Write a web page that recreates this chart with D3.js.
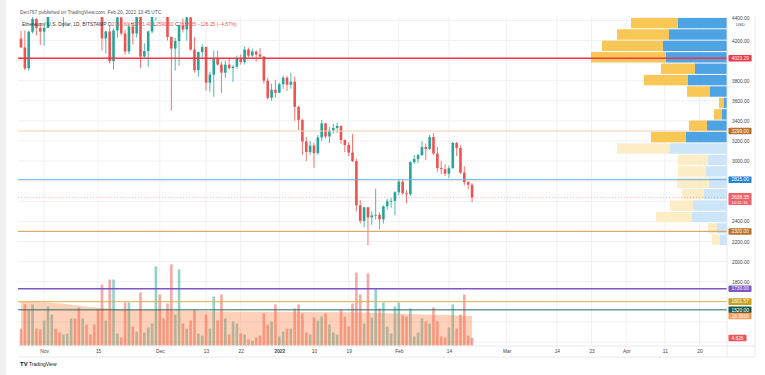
<!DOCTYPE html>
<html>
<head>
<meta charset="utf-8">
<script src="https://cdn.jsdelivr.net/npm/d3@7"></script>
<style>
  body { margin: 0; background: #fff; }
  svg { display: block; font-family: "Liberation Sans", Arial, sans-serif; }
</style>
</head>
<body>
<div id="chart"></div>
<script>
// ETH/USD daily, BITSTAMP, Oct 26 2021 -> Feb 20 2022
const opens = [
  4218,4131,3923,4287,4415,4325,4288,4325,4588,4603,
  4530,4480,4520,4620,4810,4733,4640,4725,4665,4648,
  4625,4570,4220,4290,3995,4300,4430,4270,4090,4340,
  4270,4525,4040,4095,4290,4440,4630,4585,4510,4235,
  4120,4195,4350,4310,4430,4110,3905,4085,4135,3780,
  3860,4020,3960,3880,3960,3925,3940,4020,3985,4110,
  4050,4090,4060,4040,3800,3630,3710,3680,3765,3830,
  3760,3790,3540,3410,3195,3090,3155,3080,3235,3375,
  3245,3305,3330,3350,3210,3160,3085,3000,2560,2405,
  2540,2440,2460,2465,2420,2550,2600,2605,2690,2795,
  2680,2670,2990,3020,3060,3140,3120,3240,3075,2930,
  2920,2875,2930,3180,3130,2885,2790,2764.6
]
const highs = [
  4295,4300,4300,4460,4420,4375,4380,4600,4665,4610,
  4570,4530,4640,4830,4840,4870,4780,4800,4700,4680,
  4770,4570,4300,4345,4320,4440,4460,4310,4370,4360,
  4550,4550,4170,4300,4460,4770,4775,4600,4645,4240,
  4230,4355,4420,4440,4470,4235,4090,4160,4140,3890,
  4100,4100,3990,4000,4020,3955,4050,4060,4140,4130,
  4120,4100,4125,4045,3830,3770,3810,3780,3850,3850,
  3880,3840,3550,3420,3240,3200,3180,3260,3410,3380,
  3340,3370,3380,3355,3215,3190,3270,3025,2610,2545,
  2545,2500,2725,2490,2560,2625,2635,2700,2820,2810,
  2710,3000,3060,3070,3200,3175,3260,3280,3140,3000,
  2970,2955,3190,3190,3160,2950,2800,2781.4
]
const lows = [
  4125,3905,3900,4270,4250,4155,4150,4325,4460,4450,
  4440,4330,4500,4610,4700,4500,4630,4500,4570,4520,
  4555,4100,4070,3970,3910,4230,4250,4060,4065,4160,
  4230,3925,4030,3940,4270,4400,4520,4430,4200,3500,
  3900,3950,4280,4200,4100,3880,3840,4030,3700,3690,
  3640,3950,3680,3830,3910,3790,3920,3960,3960,4030,
  4030,3990,4030,3770,3610,3600,3630,3675,3720,3700,
  3720,3400,3310,3060,3000,3060,2930,3060,3200,3225,
  3180,3275,3280,3170,3090,3050,2990,2500,2380,2340,
  2160,2365,2420,2320,2380,2520,2535,2460,2660,2665,
  2580,2650,2970,2980,3050,3010,3110,3060,2890,2870,
  2850,2830,2925,3050,2870,2760,2720,2590.1
]
const closes = [
  4131,3923,4287,4415,4325,4288,4325,4588,4603,4530,
  4480,4520,4620,4810,4733,4640,4725,4665,4648,4625,
  4570,4220,4290,3995,4300,4430,4270,4090,4340,4270,
  4525,4040,4095,4290,4440,4630,4585,4510,4235,4120,
  4195,4350,4310,4430,4110,3905,4085,4135,3780,3860,
  4020,3960,3880,3960,3925,3940,4020,3985,4110,4050,
  4090,4060,4040,3800,3630,3710,3680,3765,3830,3760,
  3790,3540,3410,3195,3090,3155,3080,3235,3375,3245,
  3305,3330,3350,3210,3160,3085,3000,2560,2405,2540,
  2440,2460,2465,2420,2550,2600,2605,2690,2795,2680,
  2670,2990,3020,3060,3140,3120,3240,3075,2930,2920,
  2875,2930,3180,3130,2885,2790,2764.6,2638.35
]
// volume (K ETH)
const volumes = [
  10.9,26.4,23.1,26.4,10.9,10.3,16.1,25.1,19.9,10.9,
  8.4,7.1,7.7,17.4,17.4,24.4,17.4,13.5,7.1,13.5,
  23.1,39.2,16.1,42.4,42.4,7.7,5.1,27.6,27.6,12.2,
  9.0,34.1,8.4,11.6,14.1,50.8,32.8,17.4,27.0,52.1,
  19.9,48.9,14.1,10.9,16.1,23.1,7.7,6.4,19.9,10.9,
  31.5,16.1,32.8,17.4,7.1,15.4,14.1,7.7,7.1,3.9,
  3.2,5.1,6.4,20.6,13.5,15.4,26.4,5.8,9.0,10.9,
  10.9,23.8,26.4,20.6,8.4,7.1,18.0,16.1,18.6,20.6,
  13.5,8.4,7.1,23.1,18.6,12.2,27.0,46.9,32.8,14.1,
  46.3,18.0,36.7,23.8,27.6,12.2,7.7,25.1,27.6,19.3,
  18.6,23.8,5.8,8.4,17.4,15.4,14.1,24.4,15.4,5.8,
  5.1,11.6,26.4,10.9,19.9,32.8,6.4,4.826
]
// volume moving average, read at a few dates
const maDates = ['2021-10-26','2021-11-03','2021-11-10','2021-11-16','2021-11-21','2021-11-29',
                 '2021-12-11','2021-12-24','2022-01-19','2022-02-06','2022-02-20']
const maValues = [28.2, 27.4, 25.6, 24.1, 23.3, 22.8, 22.2, 21.7, 21.3, 20.1, 18.9566]

// horizontal levels drawn on the chart
const levelPrices = [4023.29, 3299.00, 2815.00, 2300.00, 1730.00, 1601.57, 1520.00]

// visible range volume profile, top row first
const profileTop = 4430
const profileStep = 113.5
const profileUp =   [245,290,320,305,160,195,85,15,25,100,205,285,95,105,90,115,170,175,50,35]
const profileDown = [235,260,305,375,170,220,115,25,40,90,175,265,150,140,160,110,115,180,45,40]
const valueAreaLow = 3180

const priceTicks = d3.range(1200, 4401, 200)
const timeTicks = ['2021-11-01','2021-11-15','2021-12-01','2021-12-13','2021-12-22','2022-01-01',
                   '2022-01-10','2022-01-19','2022-02-01','2022-02-14','2022-03-01','2022-03-14',
                   '2022-03-23','2022-04-01','2022-04-11','2022-04-20']

const lastPrice = 2638.35
const volumeMA = 18.9566

// ---- layout
const W = 765, H = 375
const paneL = 18, paneR = 727, paneT = 17, paneB = 346

const parse = d3.utcParse('%Y-%m-%d')
const firstDay = Date.UTC(2021, 9, 26)
const days = d3.utcDay.range(firstDay, Date.UTC(2022, 1, 21))
const candles = days.map((d, i) => ({date: d, o: opens[i], h: highs[i], l: lows[i], c: closes[i], v: volumes[i]}))

const x = d3.scaleUtc().domain([firstDay, Date.UTC(2022, 3, 20)]).range([21, 699.5])
const y = d3.scaleLinear().domain([1200, 4400]).range([342.0, 20.4])
const yVol = d3.scaleLinear().domain([0, 50]).range([345.5, 267.7])
const xProf = d3.scaleLinear().domain([0, 700]).range([0, 140])

const up = '#26a69a', down = '#ef5350'
const bw = 2.6

const svg = d3.select('#chart').append('svg')
    .attr('width', W).attr('height', H)

svg.append('rect').attr('width', W).attr('height', H).attr('fill', '#fff')
svg.append('rect').attr('width', 6).attr('height', H).attr('fill', '#f1f1f1')

svg.append('clipPath').attr('id', 'pane')
  .append('rect').attr('x', paneL).attr('y', paneT).attr('width', paneR - paneL).attr('height', paneB - paneT)

const pane = svg.append('g').attr('clip-path', 'url(#pane)')

// grid
pane.selectAll('.vgrid').data(timeTicks).join('line')
    .attr('x1', d => x(parse(d))).attr('x2', d => x(parse(d)))
    .attr('y1', paneT).attr('y2', paneB)
    .attr('stroke', '#f0f1f5').attr('stroke-width', 1)
pane.selectAll('.hgrid').data(priceTicks).join('line')
    .attr('x1', paneL).attr('x2', paneR)
    .attr('y1', d => y(d)).attr('y2', d => y(d))
    .attr('stroke', '#f0f1f5').attr('stroke-width', 1)

// volume bars
pane.append('g').selectAll('rect').data(candles).join('rect')
    .attr('x', d => x(d.date) - bw / 2)
    .attr('width', bw)
    .attr('y', d => yVol(d.v))
    .attr('height', d => yVol(0) - yVol(d.v))
    .attr('fill', d => d.c >= d.o ? 'rgba(38,166,154,0.5)' : 'rgba(239,83,80,0.5)')

// volume MA area
const maData = maDates.map((d, i) => ({date: parse(d), v: maValues[i]}))
pane.append('path').datum(maData)
    .attr('d', d3.area().x(d => x(d.date)).y0(yVol(0)).y1(d => yVol(d.v)).curve(d3.curveMonotoneX))
    .attr('fill', 'rgba(255,112,40,0.32)')

// candles
const cg = pane.append('g').selectAll('g').data(candles).join('g')
cg.append('line')
    .attr('x1', d => x(d.date)).attr('x2', d => x(d.date))
    .attr('y1', d => y(d.h)).attr('y2', d => y(d.l))
    .attr('stroke', d => d.c >= d.o ? up : down).attr('stroke-width', 0.8)
cg.append('rect')
    .attr('x', d => x(d.date) - bw / 2)
    .attr('width', bw)
    .attr('y', d => y(Math.max(d.o, d.c)))
    .attr('height', d => Math.max(0.8, Math.abs(y(d.o) - y(d.c))))
    .attr('fill', d => d.c >= d.o ? up : down)

// volume profile
const rows = profileUp.map((u, i) => ({
  hi: profileTop - i * profileStep,
  lo: profileTop - (i + 1) * profileStep,
  up: u, down: profileDown[i]
}))
const pg = pane.append('g').selectAll('g').data(rows).join('g')
pg.append('rect')
    .attr('x', d => paneR - xProf(d.up))
    .attr('width', d => xProf(d.up))
    .attr('y', d => y(d.hi) + 0.5)
    .attr('height', d => y(d.lo) - y(d.hi) - 1)
    .attr('fill', d => d.lo >= valueAreaLow ? '#4ea3e4' : '#cde5f8')
pg.append('rect')
    .attr('x', d => paneR - xProf(d.up) - xProf(d.down))
    .attr('width', d => xProf(d.down))
    .attr('y', d => y(d.hi) + 0.5)
    .attr('height', d => y(d.lo) - y(d.hi) - 1)
    .attr('fill', d => d.lo >= valueAreaLow ? '#f8c755' : '#fdedc6')

// level lines
const levelStyle = [
  {stroke: '#f23645', w: 1.3},
  {stroke: '#f1cfab', w: 1},
  {stroke: '#6eaee8', w: 1},
  {stroke: '#d8ab74', w: 1.2},
  {stroke: '#7e57c2', w: 1.5},
  {stroke: '#e2b440', w: 1},
  {stroke: '#2b6b5d', w: 1}
]
pane.selectAll('.level').data(levelPrices).join('line')
    .attr('x1', paneL).attr('x2', paneR)
    .attr('y1', d => y(d)).attr('y2', d => y(d))
    .attr('stroke', (d, i) => levelStyle[i].stroke)
    .attr('stroke-width', (d, i) => levelStyle[i].w)

// last price dotted line
pane.append('line')
    .attr('x1', paneL).attr('x2', paneR)
    .attr('y1', y(lastPrice)).attr('y2', y(lastPrice))
    .attr('stroke', '#ef5350').attr('stroke-opacity', 0.5)
    .attr('stroke-dasharray', '1,2').attr('stroke-width', 0.8)

// frame
const frame = svg.append('g').attr('stroke', '#e3e5ea').attr('stroke-width', 0.8).attr('fill', 'none')
frame.append('line').attr('x1', paneR).attr('x2', paneR).attr('y1', paneT).attr('y2', 357)
frame.append('line').attr('x1', paneL).attr('x2', 755).attr('y1', paneB).attr('y2', paneB)
frame.append('line').attr('x1', paneL).attr('x2', 755).attr('y1', 357).attr('y2', 357)
frame.append('line').attr('x1', 755).attr('x2', 755).attr('y1', paneT).attr('y2', 357)

// axis tags (levels, volume MA, last volume)
const tagStyle = [
  {fill: '#f23645'}, {fill: '#b8702a'}, {fill: '#2a85d8'}, {fill: '#b8702a'},
  {fill: '#7e57c2'}, {fill: '#c9a01a'}, {fill: '#1d5a4d'}
]
const tags = levelPrices.map((p, i) => ({yy: y(p), label: d3.format('.2f')(p), fill: tagStyle[i].fill}))
tags.push({yy: yVol(volumeMA), label: String(volumeMA), fill: '#ff9a57'})
tags.push({yy: yVol(volumes[volumes.length - 1]), label: d3.format('.3f')(volumes[volumes.length - 1]), fill: '#f05454', w: 18})
const ly = y(lastPrice)

// price axis: tick labels hidden where a tag sits on them
const tagYs = tags.map(t => t.yy).concat([ly + 1])
const shownTicks = priceTicks.filter(p => tagYs.every(t => Math.abs(y(p) - t) > 6.5))
const yAxis = svg.append('g')
    .attr('transform', `translate(${paneR},0)`)
    .call(d3.axisRight(y).tickValues(shownTicks).tickFormat(d3.format('.2f')).tickSize(0).tickPadding(5))
yAxis.select('.domain').remove()
yAxis.selectAll('text').attr('font-size', 4.8).attr('fill', '#444').attr('font-family', 'Liberation Sans, Arial, sans-serif')
yAxis.selectAll('.tick').filter(d => d === 4400).attr('transform', `translate(0,${y(4400) - 2})`)
svg.append('text').attr('x', 736).attr('y', 26).attr('font-size', 4.2).attr('fill', '#444').text('USD')

// time axis
const fmt = d => {
  if (d.getUTCMonth() === 0 && d.getUTCDate() === 1) return d3.utcFormat('%Y')(d)
  if (d.getUTCDate() === 1) return d3.utcFormat('%b')(d)
  return d3.utcFormat('%-d')(d)
}
const xAxis = svg.append('g')
    .attr('transform', `translate(0,${paneB})`)
    .call(d3.axisBottom(x).tickValues(timeTicks.map(parse)).tickFormat(fmt).tickSize(0).tickPadding(4))
xAxis.select('.domain').remove()
xAxis.selectAll('text').attr('font-size', 4.8).attr('fill', '#444')
    .attr('font-family', 'Liberation Sans, Arial, sans-serif')
    .attr('font-weight', d => (d.getUTCMonth() === 0 && d.getUTCDate() === 1) ? 'bold' : null)

const tg = svg.append('g').selectAll('g').data(tags).join('g')
tg.append('rect')
    .attr('x', 728.5).attr('y', d => d.yy - 3.3)
    .attr('width', d => d.w || 23).attr('height', 6.6).attr('rx', 0.8)
    .attr('fill', d => d.fill)
tg.append('text')
    .attr('x', 731.5).attr('y', d => d.yy + 1.7)
    .attr('font-size', 4.8).attr('fill', '#fff')
    .text(d => d.label)

// last price tag with countdown
svg.append('rect').attr('x', 728.5).attr('y', ly - 4.5).attr('width', 23).attr('height', 12)
    .attr('rx', 0.8).attr('fill', '#f0626a')
svg.append('text').attr('x', 731.5).attr('y', ly + 1.2).attr('font-size', 4.8).attr('fill', '#fff')
    .text(d3.format('.2f')(lastPrice))
svg.append('text').attr('x', 731.5).attr('y', ly + 6.3).attr('font-size', 4.3).attr('fill', '#fff')
    .text('10:11:15')

// header
svg.append('text').attr('x', 20).attr('y', 13.5).attr('font-size', 4.9).attr('fill', '#555')
    .text('Den767 published on TradingView.com, Feb 20, 2022 13:45 UTC')
const title = svg.append('text').attr('x', 22).attr('y', 25.8).attr('font-size', 4.9)
title.append('tspan').attr('fill', '#333').text('Ethereum / U.S. Dollar, 1D, BITSTAMP  ')
title.append('tspan').attr('fill', '#333').text('O')
title.append('tspan').attr('fill', down).text(d3.format('.2f')(opens[opens.length - 1]) + ' ')
title.append('tspan').attr('fill', '#333').text('H')
title.append('tspan').attr('fill', down).text(d3.format('.2f')(highs[highs.length - 1]) + ' ')
title.append('tspan').attr('fill', '#333').text('L')
title.append('tspan').attr('fill', down).text(d3.format('.2f')(lows[lows.length - 1]) + ' ')
title.append('tspan').attr('fill', '#333').text('C')
title.append('tspan').attr('fill', down).text(d3.format('.2f')(lastPrice) + ' \u2212126.25 (\u22124.57%)')

// footer logo
svg.append('text').attr('x', 20).attr('y', 366).attr('font-size', 6).attr('font-weight', 'bold')
    .attr('fill', '#131722').text('TV')
svg.append('text').attr('x', 29).attr('y', 366).attr('font-size', 5).attr('fill', '#131722')
    .text('TradingView')
</script>
</body>
</html>
